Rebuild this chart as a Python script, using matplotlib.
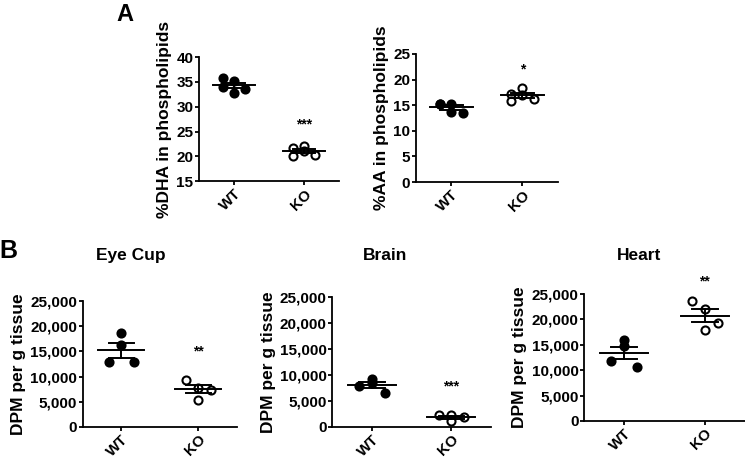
import numpy as np
import matplotlib
matplotlib.use("Agg")
import matplotlib.pyplot as plt
from matplotlib.ticker import FuncFormatter

plt.rcParams["font.family"] = ["Liberation Sans", "DejaVu Sans"]
plt.rcParams["font.weight"] = "bold"

groups = ["WT", "KO"]
offsets = [-0.16, 0.0, -0.16, 0.16, 0.0]

dha_wt = [35.9, 35.2, 34.05, 33.6, 32.7]
dha_ko = [21.7, 22.1, 20.1, 20.3, 21.0]
aa_wt = [15.3, 15.2, 15.3, 13.5, 13.6]
aa_ko = [17.2, 18.4, 15.8, 16.3, 17.0]

eye_wt = [18700, 16200, 12900, 12900]
eye_ko = [9400, 7800, 7300, 5400]
brain_wt = [8400, 9300, 7800, 6500]
brain_ko = [2200, 2300, 1900, 1100]
heart_wt = [15900, 14800, 11900, 10700]
heart_ko = [23700, 22100, 19300, 17900]

off4 = [0.0, 0.0, -0.16, 0.16]
off4_ko = [-0.16, 0.0, 0.16, 0.0]


def scatter_group(ax, x, vals, offs, filled):
    xs = [x + o for o in offs[:len(vals)]]
    ax.plot(xs, vals, "o", ms=5.8, mfc="black" if filled else "white",
            mec="black", mew=1.5, ls="none", zorder=2, clip_on=False)
    m = np.mean(vals)
    sem = np.std(vals, ddof=1) / np.sqrt(len(vals))
    ax.plot([x - 0.3, x + 0.3], [m, m], color="black", lw=1.4, zorder=3)
    ax.plot([x - 0.16, x + 0.16], [m + sem, m + sem], color="black", lw=1.4, zorder=3)
    ax.plot([x - 0.16, x + 0.16], [m - sem, m - sem], color="black", lw=1.4, zorder=3)
    ax.plot([x, x], [m - sem, m + sem], color="black", lw=1.4, zorder=3)


def style(ax, ylim, yticks, ylabel, comma=False):
    ax.set_xlim(-0.5, 1.5)
    ax.set_ylim(*ylim)
    ax.set_yticks(yticks)
    ax.set_xticks([0, 1])
    ax.set_xticklabels(groups, rotation=45, ha="right", rotation_mode="anchor")
    for s in ["top", "right"]:
        ax.spines[s].set_visible(False)
    for s in ["left", "bottom"]:
        ax.spines[s].set_linewidth(1.3)
    ax.tick_params(width=1.3, length=3, labelsize=11, pad=1)
    for lab in ax.get_xticklabels() + ax.get_yticklabels():
        lab.set_fontweight("bold")
    if comma:
        ax.yaxis.set_major_formatter(FuncFormatter(lambda v, p: f"{int(v):,}"))
    ax.set_ylabel(ylabel, fontsize=12.5, fontweight="bold", labelpad=3)


fig = plt.figure(figsize=(7.45, 4.61), dpi=100)

ax1 = fig.add_axes([0.267, 0.607, 0.188, 0.269])
scatter_group(ax1, 0, dha_wt, offsets, True)
scatter_group(ax1, 1, dha_ko, offsets, False)
style(ax1, (15, 40), [15, 20, 25, 30, 35, 40], "%DHA in phospholipids")
ax1.text(1, 25.0, "***", ha="center", va="bottom", fontsize=10, fontweight="bold")

ax2 = fig.add_axes([0.558, 0.605, 0.191, 0.278])
scatter_group(ax2, 0, aa_wt, offsets, True)
scatter_group(ax2, 1, aa_ko, offsets, False)
style(ax2, (0, 25), [0, 5, 10, 15, 20, 25], "%AA in phospholipids")
ax2.text(1, 20.6, "*", ha="center", va="bottom", fontsize=10, fontweight="bold")

panels = [
    ([0.111, 0.074, 0.207, 0.273], eye_wt, eye_ko, "Eye Cup", "**", 13600, 0.176),
    ([0.446, 0.074, 0.213, 0.282], brain_wt, brain_ko, "Brain", "***", 6400, 0.517),
    ([0.784, 0.087, 0.216, 0.275], heart_wt, heart_ko, "Heart", "**", 26200, 0.858),
]
for rect, wt, ko, title, star, sy, tx in panels:
    ax = fig.add_axes(rect)
    scatter_group(ax, 0, wt, off4, True)
    scatter_group(ax, 1, ko, off4_ko, False)
    style(ax, (0, 25000), [0, 5000, 10000, 15000, 20000, 25000],
          "DPM per g tissue", comma=True)
    ax.text(1, sy, star, ha="center", va="bottom", fontsize=10,
            fontweight="bold", clip_on=False)
    fig.text(tx, 1 - 255 / 461, title, fontsize=12.5, fontweight="bold",
             ha="center", va="center")

fig.text(125 / 745, 1 - 21 / 461, "A", fontsize=17, fontweight="bold",
         ha="center", va="baseline")
fig.text(8 / 745, 1 - 251 / 461, "B", fontsize=18, fontweight="bold", ha="center", va="center")

fig.savefig("out.png", dpi=100)
